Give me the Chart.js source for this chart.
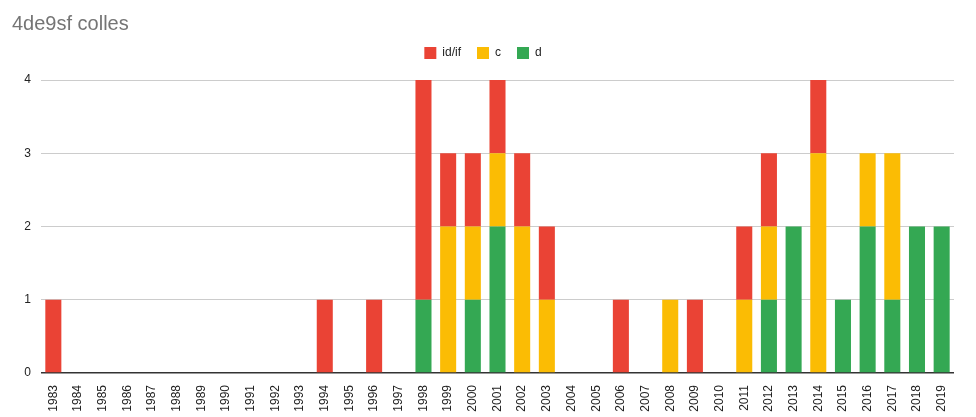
<!DOCTYPE html>
<html>
<head>
<meta charset="utf-8">
<script src="https://cdn.jsdelivr.net/npm/chart.js@4/dist/chart.umd.min.js"></script>
<style>
html,body{margin:0;padding:0;background:#fff;}
#wrap{width:976px;height:417px;}
</style>
</head>
<body>
<div id="wrap"><canvas id="c" width="976" height="417"></canvas></div>
<script>
const years = ["1983","1984","1985","1986","1987","1988","1989","1990","1991","1992","1993","1994","1995","1996","1997","1998","1999","2000","2001","2002","2003","2004","2005","2006","2007","2008","2009","2010","2011","2012","2013","2014","2015","2016","2017","2018","2019"];
const idif = [1,0,0,0,0,0,0,0,0,0,0,1,0,1,0,3,1,1,1,1,1,0,0,1,0,0,1,0,1,1,0,1,0,0,0,0,0];
const cVals = [0,0,0,0,0,0,0,0,0,0,0,0,0,0,0,0,2,1,1,2,1,0,0,0,0,1,0,0,1,1,0,3,0,1,2,0,0];
const dVals = [0,0,0,0,0,0,0,0,0,0,0,0,0,0,0,1,0,1,2,0,0,0,0,0,0,0,0,0,0,1,2,0,1,2,1,2,2];
const yTicks = [0,1,2,3,4];

const FONT = 'Arial, "Liberation Sans", sans-serif';

const legendPad = {
  id: 'legendPad',
  beforeInit(chart) {
    const orig = chart.legend.fit;
    chart.legend.fit = function() {
      orig.bind(chart.legend)();
      this.height += 11;
    };
  }
};

new Chart(document.getElementById('c'), {
  type: 'bar',
  data: {
    labels: years,
    datasets: [
      {label: 'd', data: dVals, backgroundColor: '#34A853'},
      {label: 'c', data: cVals, backgroundColor: '#FBBC04'},
      {label: 'id/if', data: idif, backgroundColor: '#EA4335'}
    ]
  },
  options: {
    responsive: false,
    animation: false,
    devicePixelRatio: 1,
    layout: {padding: {left: 12, right: 22, top: 0, bottom: 0}},
    datasets: {bar: {categoryPercentage: 0.65, barPercentage: 1.0}},
    plugins: {
      title: {
        display: true, text: '4de9sf colles', align: 'start',
        color: '#757575',
        font: {family: FONT, size: 20, weight: 'normal'},
        padding: {top: 12, bottom: -5}
      },
      legend: {
        position: 'top', align: 'center',
        labels: {
          boxWidth: 12, boxHeight: 12, padding: 16,
          color: '#222',
          font: {family: FONT, size: 12},
          sort: (a, b) => b.datasetIndex - a.datasetIndex
        }
      },
      tooltip: {enabled: false}
    },
    scales: {
      x: {
        stacked: true,
        grid: {display: false},
        border: {display: false},
        ticks: {
          autoSkip: false, minRotation: 90, maxRotation: 90,
          color: '#222', padding: 4,
          font: {family: FONT, size: 12}
        },
        afterFit: s => { s.height = 44; }
      },
      y: {
        stacked: true, min: 0, max: 4,
        afterBuildTicks: s => { s.ticks = yTicks.map(v => ({value: v})); },
        grid: {
          color: ctx => ctx.tick && ctx.tick.value === 0 ? '#333' : '#cccccc',
          lineWidth: ctx => ctx.tick && ctx.tick.value === 0 ? 1.5 : 1,
          drawTicks: false
        },
        border: {display: false},
        ticks: {
          stepSize: 1, color: '#222', padding: 10,
          font: {family: FONT, size: 12}
        },
        afterFit: s => { s.width = 29; }
      }
    }
  },
  plugins: [legendPad]
});
</script>
</body>
</html>
